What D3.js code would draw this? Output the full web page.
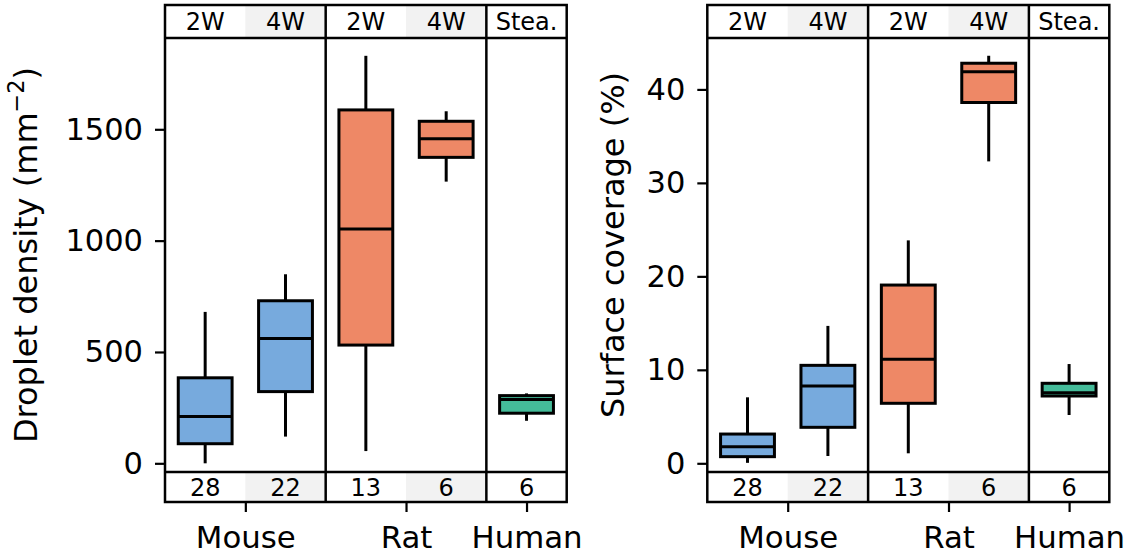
<!DOCTYPE html>
<html>
<head>
<meta charset="utf-8">
<script src="https://cdn.jsdelivr.net/npm/d3@7"></script>
<style>
  html, body { margin: 0; padding: 0; background: #fff; }
  svg { display: block; font-family: "DejaVu Sans", sans-serif; }
</style>
</head>
<body>
<svg id="chart" width="1135" height="555"></svg>
<script>
// Groups along the x axis (one slot each)
const groupLabels = ["2W", "4W", "2W", "4W", "Stea."];
const groupCounts = [28, 22, 13, 6, 6];
const groupSpecies = ["Mouse", "Mouse", "Rat", "Rat", "Human"];
const speciesLabels = ["Mouse", "Rat", "Human"];
const speciesTickPos = [1, 3, 4.5];

// Droplet density (mm^-2): whisker low, Q1, median, Q3, whisker high
const densityLow = [0, 120, 55, 1265, 191];
const densityQ1 = [88, 322, 531, 1374, 225];
const densityMedian = [210, 561, 1052, 1458, 287];
const densityQ3 = [384, 730, 1587, 1536, 304];
const densityHigh = [680, 849, 1830, 1581, 314];
const densityTicks = [0, 500, 1000, 1500];

// Surface coverage (%): whisker low, Q1, median, Q3, whisker high
const coverageLow = [0.05, 0.78, 1.07, 32.3, 5.17];
const coverageQ1 = [0.71, 3.85, 6.42, 38.6, 7.2];
const coverageMedian = [1.78, 8.27, 11.12, 41.9, 7.55];
const coverageQ3 = [3.13, 10.48, 19.07, 42.8, 8.56];
const coverageHigh = [7.06, 14.7, 23.85, 43.6, 10.62];
const coverageTicks = [0, 10, 20, 30, 40];

const speciesColor = { Mouse: "#77aadd", Rat: "#ee8866", Human: "#44bb99" };

const svg = d3.select("#chart");

const frameTop = 5, plotTop = 38, plotBottom = 472, frameBottom = 502;

function buildStats(low, q1, med, q3, high) {
  return groupLabels.map((g, i) => ({
    i, group: g, species: groupSpecies[i], n: groupCounts[i],
    low: low[i], q1: q1[i], med: med[i], q3: q3[i], high: high[i]
  }));
}

function drawPanel(opt) {
  const g = svg.append("g");
  const x = d3.scaleLinear().domain([0, groupLabels.length]).range([opt.left, opt.right]);
  const y = d3.scaleLinear().domain(opt.yDomain).range([plotBottom, plotTop]);
  const slot = x(1) - x(0);
  const boxW = slot * 0.67;

  // shaded header cells for the 4-week groups
  const shaded = opt.stats.filter(d => d.group === "4W");
  [[frameTop, plotTop], [plotBottom, frameBottom]].forEach(([y0, y1]) => {
    g.selectAll(null).data(shaded).enter().append("rect")
      .attr("x", d => x(d.i)).attr("width", slot)
      .attr("y", y0).attr("height", y1 - y0)
      .attr("fill", "#f2f2f2");
  });

  // header labels
  g.selectAll(null).data(opt.stats).enter().append("text")
    .attr("x", d => x(d.i + 0.5)).attr("y", 30)
    .attr("text-anchor", "middle").attr("font-size", 24)
    .text(d => d.group);
  g.selectAll(null).data(opt.stats).enter().append("text")
    .attr("x", d => x(d.i + 0.5)).attr("y", 495.5)
    .attr("text-anchor", "middle").attr("font-size", 24)
    .text(d => d.n);

  // boxes
  const box = g.selectAll(null).data(opt.stats).enter().append("g");
  box.append("line")
    .attr("x1", d => x(d.i + 0.5)).attr("x2", d => x(d.i + 0.5))
    .attr("y1", d => y(d.q3)).attr("y2", d => y(d.high))
    .attr("stroke", "#000").attr("stroke-width", 3);
  box.append("line")
    .attr("x1", d => x(d.i + 0.5)).attr("x2", d => x(d.i + 0.5))
    .attr("y1", d => y(d.q1)).attr("y2", d => y(d.low))
    .attr("stroke", "#000").attr("stroke-width", 3);
  box.append("rect")
    .attr("x", d => x(d.i + 0.5) - boxW / 2).attr("width", boxW)
    .attr("y", d => y(d.q3)).attr("height", d => y(d.q1) - y(d.q3))
    .attr("fill", d => speciesColor[d.species])
    .attr("stroke", "#000").attr("stroke-width", 3);
  box.append("line")
    .attr("x1", d => x(d.i + 0.5) - boxW / 2).attr("x2", d => x(d.i + 0.5) + boxW / 2)
    .attr("y1", d => y(d.med)).attr("y2", d => y(d.med))
    .attr("stroke", "#000").attr("stroke-width", 3);

  // frame and separators
  const frame = g.append("g").attr("fill", "none").attr("stroke", "#000").attr("stroke-width", 2.5);
  frame.append("rect")
    .attr("x", opt.left).attr("y", frameTop)
    .attr("width", opt.right - opt.left).attr("height", frameBottom - frameTop);
  [plotTop, plotBottom].forEach(yy => frame.append("line")
    .attr("x1", opt.left).attr("x2", opt.right).attr("y1", yy).attr("y2", yy));
  [2, 4].forEach(k => frame.append("line")
    .attr("x1", x(k)).attr("x2", x(k)).attr("y1", frameTop).attr("y2", frameBottom));

  // y axis
  const ya = g.append("g").attr("transform", `translate(${opt.left},0)`)
    .call(d3.axisLeft(y).tickValues(opt.ticks).tickSize(10).tickPadding(12).tickFormat(d3.format("d")));
  ya.select(".domain").remove();
  ya.selectAll(".tick line").attr("stroke-width", 2.2);
  ya.selectAll(".tick text").attr("font-size", 30.5).attr("font-family", "DejaVu Sans").attr("fill", "#000");

  // x axis (species)
  const xa = g.append("g").attr("transform", `translate(0,${frameBottom})`)
    .call(d3.axisBottom(x).tickValues(speciesTickPos).tickSize(10).tickPadding(14.5)
      .tickFormat((d, i) => speciesLabels[i]));
  xa.select(".domain").remove();
  xa.selectAll(".tick line").attr("stroke-width", 2.2);
  xa.selectAll(".tick text").attr("font-size", 30.8).attr("font-family", "DejaVu Sans").attr("fill", "#000");

  // y label
  const lab = g.append("text")
    .attr("transform", `translate(${opt.labelX},${opt.labelY}) rotate(-90)`)
    .attr("text-anchor", "middle").attr("font-size", opt.labelSize);
  opt.label(lab);
}

drawPanel({
  left: 165, right: 566.7,
  yDomain: [-39, 1910], ticks: densityTicks,
  stats: buildStats(densityLow, densityQ1, densityMedian, densityQ3, densityHigh),
  labelX: 37, labelY: 255, labelSize: 32,
  label: t => {
    t.append("tspan").text("Droplet density (mm");
    t.append("tspan").attr("font-size", 22.4).attr("dy", -13).text("−2");
    t.append("tspan").attr("dy", 13).text(")");
  }
});

drawPanel({
  left: 707.3, right: 1109.3,
  yDomain: [-0.93, 45.5], ticks: coverageTicks,
  stats: buildStats(coverageLow, coverageQ1, coverageMedian, coverageQ3, coverageHigh),
  labelX: 623.5, labelY: 245, labelSize: 32,
  label: t => t.text("Surface coverage (%)")
});
</script>
</body>
</html>
